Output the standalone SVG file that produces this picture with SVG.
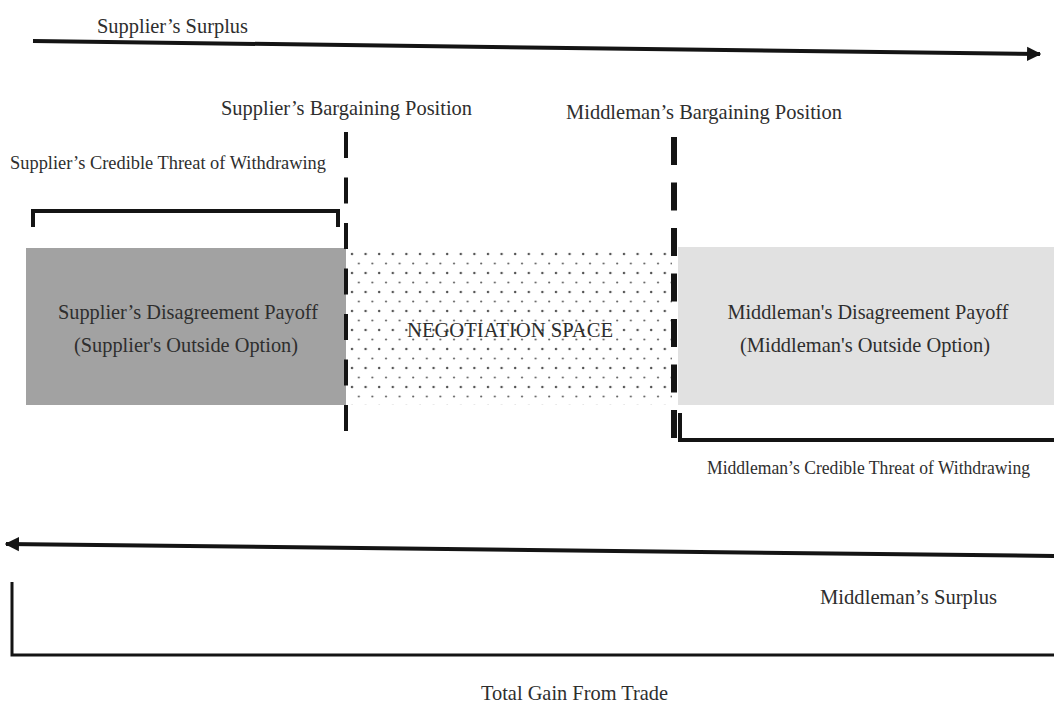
<svg xmlns="http://www.w3.org/2000/svg" width="1054" height="712" viewBox="0 0 1054 712">
<style>
text{font-family:"Liberation Serif","DejaVu Serif",serif;fill:#2e2e2e;font-size:21px}
.box{font-size:22px}
.sm{font-size:18px}
.mid{text-anchor:middle}
.line{fill:none;stroke:#141414;stroke-linecap:butt}
</style>
<defs>
<marker id="ah" viewBox="0 0 10 10" refX="9" refY="5" markerWidth="3.6" markerHeight="4.2" markerUnits="strokeWidth" orient="auto">
<path d="M0,0 L10,5 L0,10 Z" fill="#141414"/>
</marker>
<pattern id="dots" x="348" y="249" width="13.6" height="19" patternUnits="userSpaceOnUse">
<circle cx="4" cy="5" r="1.25" fill="#555"/>
<circle cx="10.8" cy="14.5" r="1.1" fill="#666"/>
</pattern>
</defs>

<g id="supplier-surplus">
<text x="97" y="33" textLength="151" lengthAdjust="spacingAndGlyphs">Supplier’s Surplus</text>
</g>

<g id="supplier-bargaining-label">
<text x="221" y="115" textLength="251" lengthAdjust="spacingAndGlyphs">Supplier’s Bargaining Position</text>
</g>
<g id="middleman-bargaining-label">
<text x="566" y="119" textLength="276" lengthAdjust="spacingAndGlyphs">Middleman’s Bargaining Position</text>
</g>

<g id="supplier-threat">
<text class="sm" x="10" y="169" textLength="316" lengthAdjust="spacingAndGlyphs">Supplier’s Credible Threat of Withdrawing</text>
</g>

<g id="supplier-payoff">
<rect x="26" y="248" width="320" height="157" fill="#a2a2a2"/>
<text class="mid box" x="188" y="319" textLength="260" lengthAdjust="spacingAndGlyphs">Supplier’s Disagreement Payoff</text>
<text class="mid box" x="186" y="352" textLength="224" lengthAdjust="spacingAndGlyphs">(Supplier's Outside Option)</text>
</g>

<g id="negotiation-space">
<rect x="348" y="249" width="324" height="156" fill="url(#dots)"/>
<text class="mid" x="510" y="337" textLength="206" lengthAdjust="spacingAndGlyphs">NEGOTIATION SPACE</text>
</g>

<g id="middleman-payoff">
<rect x="678" y="247" width="376" height="158" fill="#e1e1e1"/>
<text class="mid box" x="868" y="319" textLength="281" lengthAdjust="spacingAndGlyphs">Middleman's Disagreement Payoff</text>
<text class="mid box" x="865" y="352" textLength="250" lengthAdjust="spacingAndGlyphs">(Middleman's Outside Option)</text>
</g>

<g id="middleman-threat">
<text class="sm" x="707" y="474" textLength="323" lengthAdjust="spacingAndGlyphs">Middleman’s Credible Threat of Withdrawing</text>
</g>

<g id="middleman-surplus">
<text x="820" y="604" textLength="177" lengthAdjust="spacingAndGlyphs">Middleman’s Surplus</text>
</g>

<g id="total-gain">
<text x="481" y="700" textLength="187" lengthAdjust="spacingAndGlyphs">Total Gain From Trade</text>
</g>

<g id="connectors">
<line class="line" x1="33" y1="41" x2="1040" y2="54" stroke-width="4" marker-end="url(#ah)"/>
<line class="line" x1="1054" y1="556" x2="6" y2="544" stroke-width="4" marker-end="url(#ah)"/>
<line class="line" x1="346" y1="132" x2="346" y2="432" stroke-width="4" stroke-dasharray="26 19.5"/>
<line class="line" x1="674" y1="137" x2="674" y2="442" stroke-width="6" stroke-dasharray="28 17.5"/>
<path class="line" d="M33,227 L33,211 L338,211 L338,227" stroke-width="4"/>
<path class="line" d="M680,413 L680,440 L1054,440" stroke-width="4"/>
<path class="line" d="M12,582 L12,655 L1054,655" stroke-width="3"/>
</g>
</svg>
